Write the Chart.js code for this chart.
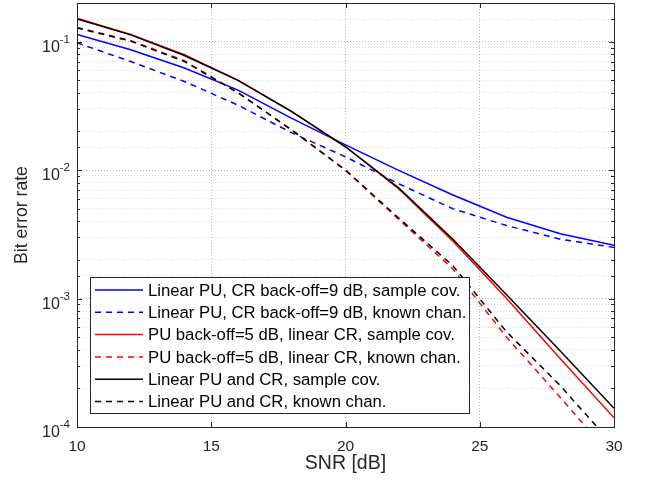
<!DOCTYPE html>
<html>
<head>
<meta charset="utf-8">
<script src="https://cdn.jsdelivr.net/npm/chart.js@4/dist/chart.umd.min.js"></script>
<style>
html,body{margin:0;padding:0;background:#fff;}
#wrap{position:relative;width:649px;height:486px;}
</style>
</head>
<body>
<div id="wrap"><canvas id="c" width="649" height="486"></canvas></div>
<script>
// ---- data ----
const snr = [10, 12, 14, 16, 18, 20, 22, 24, 26, 28, 30];
const blueSolid  = [0.114, 0.0866, 0.0624, 0.042, 0.0253, 0.0157, 0.0099, 0.0064, 0.0043, 0.0032, 0.0026];
const blueDashed = [0.098, 0.070, 0.049, 0.032, 0.0195, 0.0127, 0.0078, 0.0050, 0.0037, 0.0029, 0.0025];
const redSolid   = [0.152, 0.114, 0.079, 0.050, 0.0285, 0.0152, 0.0071, 0.0028, 0.00100, 0.00034, 0.000118];
const redDashed  = [0.129, 0.102, 0.071, 0.040, 0.0205, 0.0100, 0.0041, 0.0017, 0.00050, 0.00017, 0.000056];
const blackSolid = [0.150, 0.113, 0.078, 0.050, 0.0285, 0.0152, 0.0072, 0.0029, 0.00107, 0.00039, 0.00014];
const blackDashed= [0.128, 0.101, 0.070, 0.040, 0.0205, 0.0100, 0.0042, 0.0018, 0.00055, 0.00021, 0.000071];
const seriesLabels = [
  'Linear PU, CR back-off=9 dB, sample cov.',
  'Linear PU, CR back-off=9 dB, known chan.',
  'PU back-off=5 dB, linear CR, sample cov.',
  'PU back-off=5 dB, linear CR, known chan.',
  'Linear PU and CR, sample cov.',
  'Linear PU and CR, known chan.'
];
const xTickValues = [10, 15, 20, 25, 30];
const xTitle = 'SNR [dB]';
const yTitle = 'Bit error rate';

const FONT = '"Liberation Sans", Arial, Helvetica, sans-serif';
const AXC = '#262626';
const DASH = [6, 5];
function isDecade(v){ const l = Math.log10(v); return Math.abs(l - Math.round(l)) < 1e-6; }
function pts(arr){ return snr.map((x,i)=>({x:x, y:arr[i]})); }

const styles = [
  {c:'#0000FF', d:[]},
  {c:'#0000FF', d:DASH},
  {c:'#FF0000', d:[]},
  {c:'#FF0000', d:DASH},
  {c:'#000000', d:[]},
  {c:'#000000', d:DASH}
];
const allSeries = [blueSolid, blueDashed, redSolid, redDashed, blackSolid, blackDashed];

const datasets = allSeries.map((s,i)=>({
  label: seriesLabels[i],
  data: pts(s),
  borderColor: styles[i].c,
  backgroundColor: styles[i].c,
  borderDash: styles[i].d,
  borderWidth: 1.5,
  pointRadius: 0,
  tension: 0,
  fill: false,
  order: 6 - i
}));

const framePlugin = {
  id: 'frame',
  afterDatasetsDraw(chart){
    const {ctx, chartArea:a, scales} = chart;
    const xs = scales.x, ys = scales.y;
    ctx.save();
    ctx.strokeStyle = AXC;
    ctx.lineWidth = 1;
    ctx.beginPath();
    xTickValues.forEach(v=>{
      const px = Math.round(xs.getPixelForValue(v)) + 0.5;
      ctx.moveTo(px, a.bottom); ctx.lineTo(px, a.bottom - 5);
      ctx.moveTo(px, a.top); ctx.lineTo(px, a.top + 5);
    });
    ys.ticks.forEach(t=>{
      const py = Math.round(ys.getPixelForValue(t.value)) + 0.5;
      const len = isDecade(t.value) ? 5 : 3;
      ctx.moveTo(a.left, py); ctx.lineTo(a.left + len, py);
      ctx.moveTo(a.right, py); ctx.lineTo(a.right - len, py);
    });
    ctx.stroke();
    ctx.strokeRect(Math.round(a.left)+0.5, Math.round(a.top)+0.5, Math.round(a.right-a.left), Math.round(a.bottom-a.top));

    // y decade labels: "10" with superscript exponent
    ctx.fillStyle = AXC;
    ctx.textAlign = 'right';
    ctx.textBaseline = 'alphabetic';
    ys.ticks.forEach(t=>{
      if (!isDecade(t.value)) return;
      const py = ys.getPixelForValue(t.value);
      const e = String(Math.round(Math.log10(t.value)));
      ctx.font = '11.5px ' + FONT;
      const ew = ctx.measureText(e).width;
      ctx.fillText(e, 70, py + 1);
      ctx.font = '16px ' + FONT;
      ctx.fillText('10', 70 - ew, py + 10);
    });
    ctx.restore();
  },
  afterDraw(chart){
    const {ctx} = chart;
    const bx = 90.5, by = 277.5, bw = 379, bh = 136;
    ctx.save();
    ctx.fillStyle = '#fff';
    ctx.fillRect(bx, by, bw, bh);
    ctx.strokeStyle = '#262626';
    ctx.lineWidth = 1;
    ctx.strokeRect(bx, by, bw, bh);
    ctx.font = '16.7px ' + FONT;
    ctx.textBaseline = 'middle';
    ctx.fillStyle = '#000';
    chart.data.datasets.forEach((ds,i)=>{
      const yy = 290 + i*22.3;
      ctx.beginPath();
      ctx.strokeStyle = ds.borderColor;
      ctx.lineWidth = ds.borderWidth;
      ctx.setLineDash(ds.borderDash);
      ctx.moveTo(95, yy); ctx.lineTo(143, yy);
      ctx.stroke();
      ctx.setLineDash([]);
      ctx.fillText(ds.label, 148, yy + 1);
    });
    ctx.restore();
  }
};

new Chart(document.getElementById('c'), {
  type: 'line',
  data: { datasets },
  plugins: [framePlugin],
  options: {
    responsive: false,
    animation: false,
    devicePixelRatio: 1,
    layout: { padding: { left: 0, top: 3, right: 35, bottom: 0 } },
    plugins: { legend: { display: false }, tooltip: { enabled: false } },
    scales: {
      x: {
        type: 'linear', min: 10, max: 30,
        afterBuildTicks(scale){ scale.ticks = xTickValues.map(v=>({value:v})); },
        afterFit(scale){ scale.height = 59; scale.paddingLeft = 0; scale.paddingRight = 0; },
        grid: { color: 'rgba(0,0,0,0.28)', lineWidth: 1, drawTicks: false },
        border: { display: false, dash: [1, 2] },
        ticks: { color: AXC, font: { family: FONT, size: 15.5 }, padding: 10, maxRotation: 0 },
        title: { display: true, text: xTitle, color: AXC, font: { family: FONT, size: 19.5 }, padding: { top: 2, bottom: 11 } }
      },
      y: {
        type: 'logarithmic', min: 1e-4, max: 0.2,
        afterFit(scale){ scale.width = 77; scale.paddingTop = 0; scale.paddingBottom = 0; },
        grid: {
          color: ctx => (ctx.tick && isDecade(ctx.tick.value)) ? 'rgba(0,0,0,0.30)' : 'rgba(0,0,0,0.15)',
          lineWidth: 1, drawTicks: false
        },
        border: { display: false, dash: [1, 2] },
        ticks: {
          display: true, color: 'rgba(0,0,0,0)', font: { family: FONT, size: 15 }, padding: 8, autoSkip: false,
          callback: v => isDecade(v) ? '1e' + Math.round(Math.log10(v)) : ''
        },
        title: { display: true, text: yTitle, color: AXC, font: { family: FONT, size: 17.6 }, padding: { top: 11.4, bottom: 0 } }
      }
    }
  }
});
</script>
</body>
</html>
